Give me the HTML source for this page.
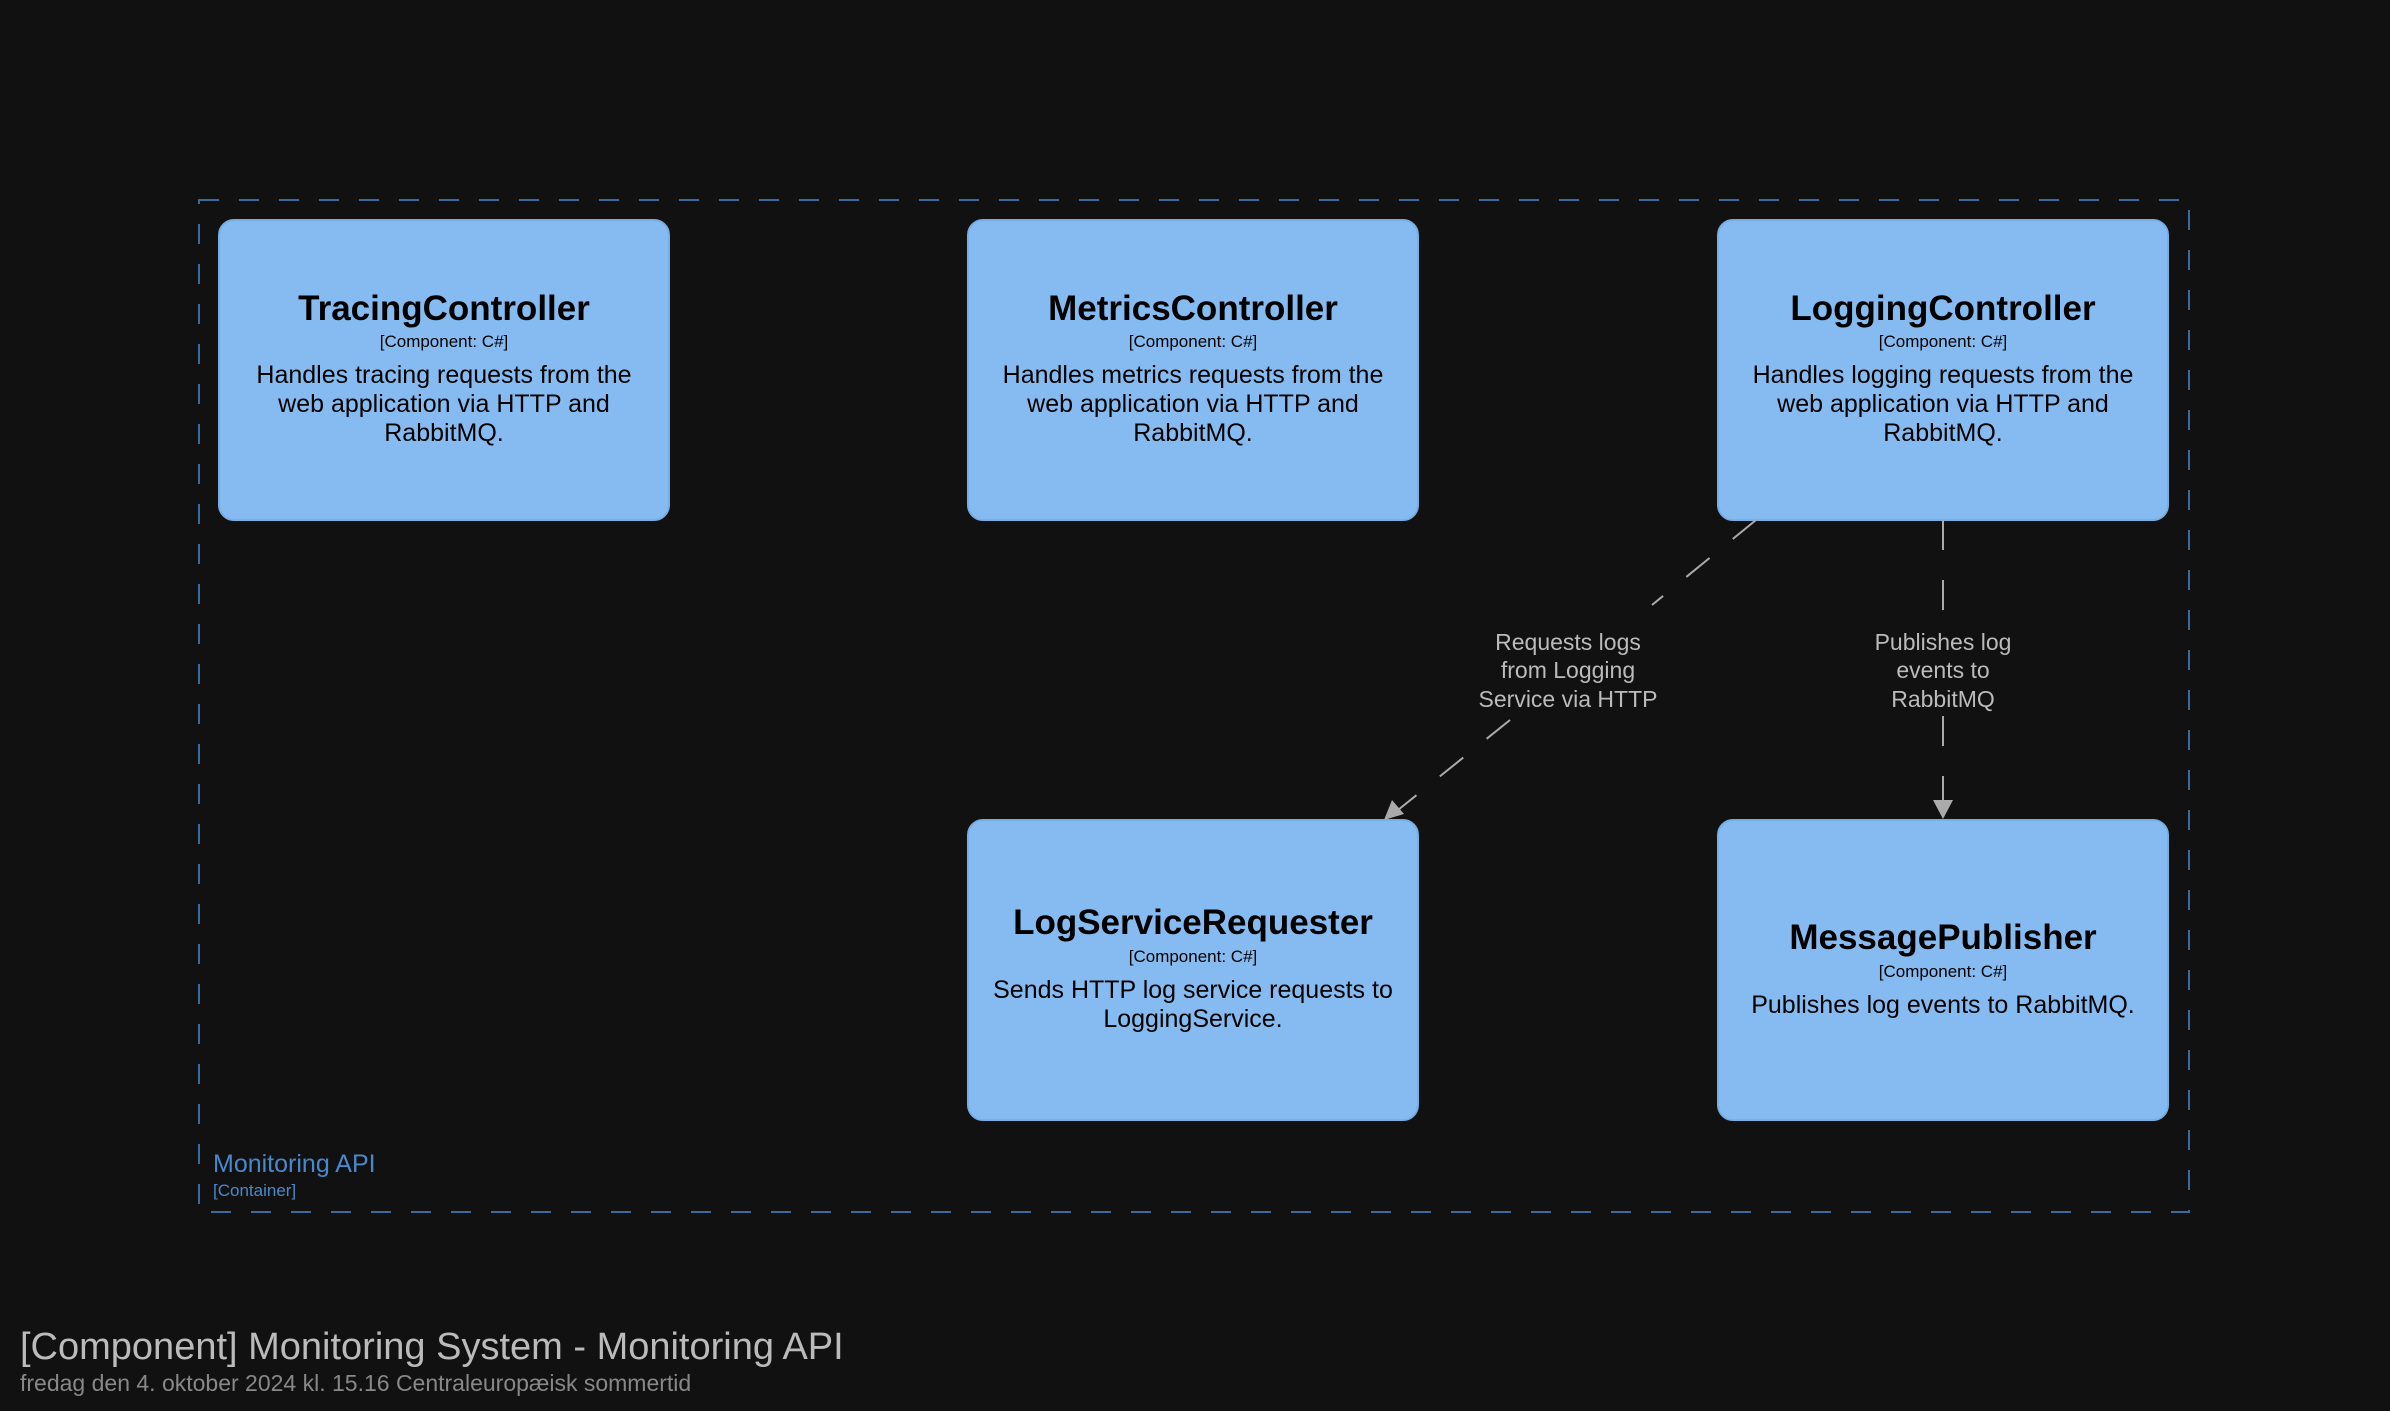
<!DOCTYPE html>
<html><head><meta charset="utf-8"><style>
html,body{margin:0;padding:0;background:#111111;}
svg{display:block;}
text{font-family:"Liberation Sans",sans-serif;}
</style></head><body>
<svg width="2390" height="1411" viewBox="0 0 2390 1411" xmlns="http://www.w3.org/2000/svg">
<rect width="2390" height="1411" fill="#111111"/>
<rect x="199" y="200" width="1990" height="1012" fill="none" stroke="#3b6a9c" stroke-width="2" stroke-dasharray="20,20"/>
<text x="213" y="1172" font-size="25" fill="#4a88cc">Monitoring API</text>
<text x="213" y="1196" font-size="17" fill="#4a88cc">[Container]</text>

<g fill="#85bbf0" stroke="#78aee3" stroke-width="2">
<rect x="219" y="220" width="450" height="300" rx="15"/>
<rect x="968" y="220" width="450" height="300" rx="15"/>
<rect x="1718" y="220" width="450" height="300" rx="15"/>
<rect x="968" y="820" width="450" height="300" rx="15"/>
<rect x="1718" y="820" width="450" height="300" rx="15"/>
</g>
<g fill="#000" text-anchor="middle">
<text x="444" y="320" font-size="35" font-weight="bold">TracingController</text>
<text x="444" y="347" font-size="17">[Component: C#]</text>
<text x="444" y="383" font-size="25">Handles tracing requests from the</text>
<text x="444" y="412" font-size="25">web application via HTTP and</text>
<text x="444" y="441" font-size="25">RabbitMQ.</text>

<text x="1193" y="320" font-size="35" font-weight="bold">MetricsController</text>
<text x="1193" y="347" font-size="17">[Component: C#]</text>
<text x="1193" y="383" font-size="25">Handles metrics requests from the</text>
<text x="1193" y="412" font-size="25">web application via HTTP and</text>
<text x="1193" y="441" font-size="25">RabbitMQ.</text>

<text x="1943" y="320" font-size="35" font-weight="bold">LoggingController</text>
<text x="1943" y="347" font-size="17">[Component: C#]</text>
<text x="1943" y="383" font-size="25">Handles logging requests from the</text>
<text x="1943" y="412" font-size="25">web application via HTTP and</text>
<text x="1943" y="441" font-size="25">RabbitMQ.</text>

<text x="1193" y="934" font-size="35" font-weight="bold">LogServiceRequester</text>
<text x="1193" y="962" font-size="17">[Component: C#]</text>
<text x="1193" y="998" font-size="25">Sends HTTP log service requests to</text>
<text x="1193" y="1027" font-size="25">LoggingService.</text>

<text x="1943" y="949" font-size="35" font-weight="bold">MessagePublisher</text>
<text x="1943" y="977" font-size="17">[Component: C#]</text>
<text x="1943" y="1013" font-size="25">Publishes log events to RabbitMQ.</text>
</g>

<g stroke="#aaaaaa" stroke-width="2" stroke-dasharray="30,30" fill="none">
<line x1="1756" y1="520" x2="1652" y2="605"/>
<line x1="1510" y1="720" x2="1398" y2="810"/>
<line x1="1943" y1="520" x2="1943" y2="612"/>
<line x1="1943" y1="716" x2="1943" y2="800"/>
</g>
<polygon points="1384,820 1392,800 1404,814" fill="#aaaaaa"/>
<polygon points="1933,800 1953,800 1943,819" fill="#aaaaaa"/>
<g fill="#bbbbbb" text-anchor="middle" font-size="23">
<text x="1568" y="650">Requests logs</text>
<text x="1568" y="678">from Logging</text>
<text x="1568" y="707">Service via HTTP</text>
<text x="1943" y="650">Publishes log</text>
<text x="1943" y="678">events to</text>
<text x="1943" y="707">RabbitMQ</text>
</g>

<text x="20" y="1359" font-size="38" fill="#bbbbbb">[Component] Monitoring System - Monitoring API</text>
<text x="20" y="1391" font-size="23" fill="#888888">fredag den 4. oktober 2024 kl. 15.16 Centraleuropæisk sommertid</text>
</svg>
</body></html>
